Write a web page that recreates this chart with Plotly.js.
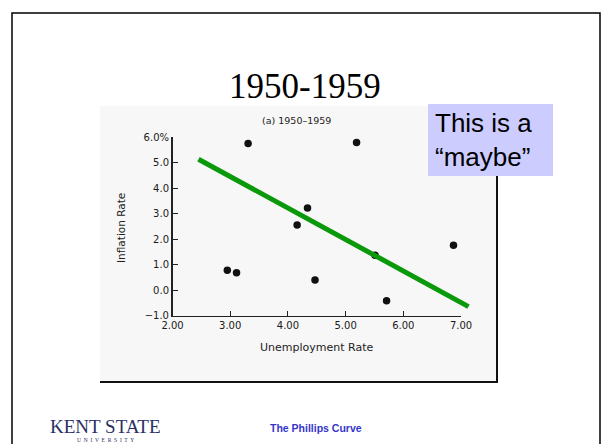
<!DOCTYPE html>
<html>
<head>
<meta charset="utf-8">
<script src="https://cdn.plot.ly/plotly-3.0.1.min.js"></script>
<style>html,body{margin:0;padding:0;background:#fff;}#chart{width:605px;height:444px;}</style>
</head>
<body>
<div id="chart"></div>
<script>
// Data
var unemploymentRate = [3.31, 5.19, 4.34, 4.16, 5.51, 2.95, 3.11, 4.47, 6.87, 5.71];
var inflationRate    = [5.75, 5.78, 3.22, 2.55, 1.36, 0.77, 0.68, 0.39, 1.75, -0.42];
var trendX = [2.45, 7.13];
var trendY = [5.13, -0.65];
var xTickVals = [2, 3, 4, 5, 6, 7];
var xTickText = ["2.00", "3.00", "4.00", "5.00", "6.00", "7.00"];
var yTickVals = [-1, 0, 1, 2, 3, 4, 5, 6];
var yTickText = ["\u22121.0", "0.0", "1.0", "2.0", "3.0", "4.0", "5.0", "6.0%"];

var W = 605, H = 444;
function px(x){ return x / W; }
function py(y){ return 1 - y / H; }

var x0 = 172.5, unit = 57.7;
var xDom = [px(x0), px(x0 + 5 * unit)];
var x2Dom = [px(x0), px(x0 + 5.3 * unit)];
var yDom = [py(315.5), py(137.0)];

var scanFont = "DejaVu Sans, Liberation Sans, Arial, sans-serif";
var tickFont = {family: scanFont, size: 10, color: "#1a1a1a"};

var traces = [
  {
    x: unemploymentRate, y: inflationRate, type: "scatter", mode: "markers",
    marker: {color: "#111", size: 7.5}, xaxis: "x", yaxis: "y", hoverinfo: "skip"
  },
  {
    x: trendX, y: trendY, type: "scatter", mode: "lines",
    line: {color: "#0a990a", width: 5}, xaxis: "x2", yaxis: "y", hoverinfo: "skip"
  }
];

var layout = {
  width: W, height: H,
  margin: {l: 0, r: 0, t: 0, b: 0},
  paper_bgcolor: "#fff",
  plot_bgcolor: "rgba(0,0,0,0)",
  showlegend: false,
  xaxis: {
    domain: xDom, range: [2, 7], anchor: "y",
    showgrid: false, zeroline: false,
    showline: true, linecolor: "#222", linewidth: 1.5,
    ticks: "inside", ticklen: 5, tickcolor: "#222", tickwidth: 1,
    tickvals: xTickVals, ticktext: xTickText, tickfont: tickFont
  },
  xaxis2: {
    domain: x2Dom, range: [2, 7.3], anchor: "y", visible: false
  },
  yaxis: {
    domain: yDom, range: [-1, 6], anchor: "x",
    showgrid: false, zeroline: false,
    showline: true, linecolor: "#222", linewidth: 1.5,
    ticks: "inside", ticklen: 5, tickcolor: "#222", tickwidth: 1,
    tickvals: yTickVals, ticktext: yTickText, tickfont: tickFont
  },
  shapes: [
    {type: "rect", xref: "paper", yref: "paper", x0: px(12), x1: px(600), y0: py(460), y1: py(13),
     line: {color: "#000", width: 1.5}, fillcolor: "rgba(0,0,0,0)", layer: "below"},
    {type: "rect", xref: "paper", yref: "paper", x0: px(100), x1: px(497), y0: py(382), y1: py(106),
     line: {width: 0}, fillcolor: "#f7f7f7", layer: "below"},
    {type: "line", xref: "paper", yref: "paper", x0: px(497), x1: px(497), y0: py(383), y1: py(106),
     line: {color: "#111", width: 2}, layer: "below"},
    {type: "line", xref: "paper", yref: "paper", x0: px(100), x1: px(498), y0: py(382), y1: py(382),
     line: {color: "#111", width: 2}, layer: "below"},
    {type: "rect", xref: "paper", yref: "paper", x0: px(428), x1: px(553), y0: py(176), y1: py(104),
     line: {width: 0}, fillcolor: "#ccccff", layer: "above"}
  ],
  annotations: [
    {text: "1950-1959", xref: "paper", yref: "paper", x: px(305), y: py(86), xanchor: "center", yanchor: "middle",
     showarrow: false, font: {family: "Liberation Serif, Times New Roman, serif", size: 35, color: "#000"}},
    {text: "(a) 1950\u20131959", xref: "paper", yref: "paper", x: px(296), y: py(120), xanchor: "center", yanchor: "middle",
     showarrow: false, font: {family: scanFont, size: 9.5, color: "#222"}},
    {text: "Inflation Rate", xref: "paper", yref: "paper", x: px(121), y: py(228), xanchor: "center", yanchor: "middle",
     textangle: -90, showarrow: false, font: {family: scanFont, size: 10.5, color: "#222"}},
    {text: "Unemployment Rate", xref: "paper", yref: "paper", x: px(317), y: py(347), xanchor: "center", yanchor: "middle",
     showarrow: false, font: {family: scanFont, size: 11, color: "#222"}},
    {text: "This is a<br>\u201cmaybe\u201d", xref: "paper", yref: "paper", x: px(433), y: py(140), xanchor: "left", yanchor: "middle",
     align: "left", showarrow: false, font: {family: "Liberation Sans, Arial, sans-serif", size: 26, color: "#000"}},
    {text: "KENT STATE", xref: "paper", yref: "paper", x: px(105), y: py(426), xanchor: "center", yanchor: "middle",
     showarrow: false, font: {family: "Liberation Serif, Times New Roman, serif", size: 19, color: "#2b2f66"}},
    {text: "U  N  I  V  E  R  S  I  T  Y", xref: "paper", yref: "paper", x: px(105), y: py(440), xanchor: "center", yanchor: "middle",
     showarrow: false, font: {family: "Liberation Serif, Times New Roman, serif", size: 5.5, color: "#2b2f66"}},
    {text: "<b>The Phillips Curve</b>", xref: "paper", yref: "paper", x: px(316), y: py(428), xanchor: "center", yanchor: "middle",
     showarrow: false, font: {family: "Liberation Sans, Arial, sans-serif", size: 10.5, color: "#3535cc"}}
  ]
};

Plotly.newPlot("chart", traces, layout, {staticPlot: true, displayModeBar: false});
</script>
</body>
</html>
